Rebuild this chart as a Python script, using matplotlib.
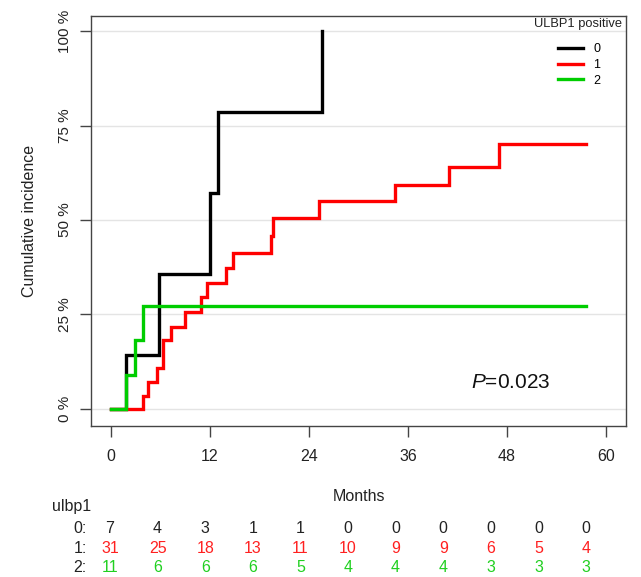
import matplotlib
matplotlib.use("Agg")
import matplotlib.pyplot as plt

plt.rcParams["font.family"] = ["Liberation Sans", "DejaVu Sans"]
plt.rcParams["mathtext.fontset"] = "custom"
plt.rcParams["mathtext.rm"] = "Liberation Sans"
plt.rcParams["mathtext.it"] = "Liberation Sans:italic"

# cumulative incidence (%) step curves
T0 = [0, 1.85, 5.8, 12.0, 12.97, 25.6]
C0 = [0, 14.3, 35.7, 57.1, 78.6, 100.0]

T1 = [0, 3.87, 4.55, 5.56, 6.37, 7.3, 8.98, 10.9, 11.7, 14.0, 14.75,
      19.35, 19.66, 25.2, 34.4, 41.0, 47.0, 57.6]
C1 = [0, 3.5, 7.05, 10.8, 18.3, 21.8, 25.6, 29.7, 33.4, 37.2, 41.3,
      45.8, 50.4, 55.0, 59.3, 63.9, 70.0, 70.0]

T2 = [0, 1.85, 2.95, 3.87, 57.6]
C2 = [0, 9.1, 18.2, 27.3, 27.3]

GROUPS = ["0", "1", "2"]
COLORS = ["#000000", "#ff0000", "#00cd00"]

# numbers at risk
RISK_TIMES = [0, 6, 12, 18, 24, 30, 36, 42, 48, 54, 60]
RISK_0 = [7, 4, 3, 1, 1, 0, 0, 0, 0, 0, 0]
RISK_1 = [31, 25, 18, 13, 11, 10, 9, 9, 6, 5, 4]
RISK_2 = [11, 6, 6, 6, 5, 4, 4, 4, 3, 3, 3]

W, H = 641, 577
fig = plt.figure(figsize=(W / 100, H / 100), dpi=100)
ax = fig.add_axes([91 / W, (H - 426) / H, 535 / W, 410.3 / H])

for y in [0, 25, 50, 75, 100]:
    ax.axhline(y, color="#e4e4e4", lw=1, zorder=0)

for t, c, lab, col in zip([T0, T1, T2], [C0, C1, C2], GROUPS, COLORS):
    ax.step(t, c, where="post", color=col, lw=2.4, label=lab,
            solid_joinstyle="miter")

ax.set_xlim(-2.4, 62.4)
ax.set_ylim(-4.5, 104.05)
ax.set_xticks(range(0, 61, 12))
ax.set_yticks([0, 25, 50, 75, 100])
ax.set_yticklabels(["0 %", "25 %", "50 %", "75 %", "100 %"],
                   rotation=90, va="center")
for s in ax.spines.values():
    s.set_color("#444444")
    s.set_linewidth(1)
ax.tick_params(axis="both", direction="out", length=7.7, width=1,
               color="#444444", labelcolor="#222222")
ax.tick_params(axis="x", labelsize=11.5, pad=9)
ax.tick_params(axis="y", labelsize=11, pad=6)
ax.set_xlabel("Months", fontsize=11.5, color="#222222", labelpad=18)
ax.set_ylabel("Cumulative incidence", fontsize=11.5, color="#222222",
              labelpad=15)

ax.text(48.4, 7.1, r"$P$=0.023", fontsize=15, ha="center", va="center",
        color="#111111")

ax.text(0.910, 0.980, "ULBP1 positive", transform=ax.transAxes,
        fontsize=9.3, ha="center", va="center", color="#222222")
ax.legend(loc="upper center", bbox_to_anchor=(0.913, 0.9323),
          frameon=False, fontsize=9, handlelength=2.0, handletextpad=0.8,
          labelspacing=0.29, borderpad=0, borderaxespad=0)

# risk table
tab = fig.add_axes([110 / W, 0, 476 / W, 77 / H])
tab.set_xlim(0, 60)
tab.set_ylim(2.526, -1.526)
tab.axis("off")
tab.text(-7.35, -1.158, "ulbp1", fontsize=11.5, ha="left", va="center",
         color="#222222")
for row, (lab, vals, col) in enumerate(zip(GROUPS, [RISK_0, RISK_1, RISK_2],
                                           ["#222222", "#ff2020", "#20d020"])):
    tab.text(-2.9, row, lab + ":", fontsize=11.5, ha="right", va="center",
             color="#222222")
    for t, v in zip(RISK_TIMES, vals):
        tab.text(t, row, str(v), fontsize=11.5, ha="center", va="center",
                 color=col)

fig.savefig("out.png", dpi=100)
